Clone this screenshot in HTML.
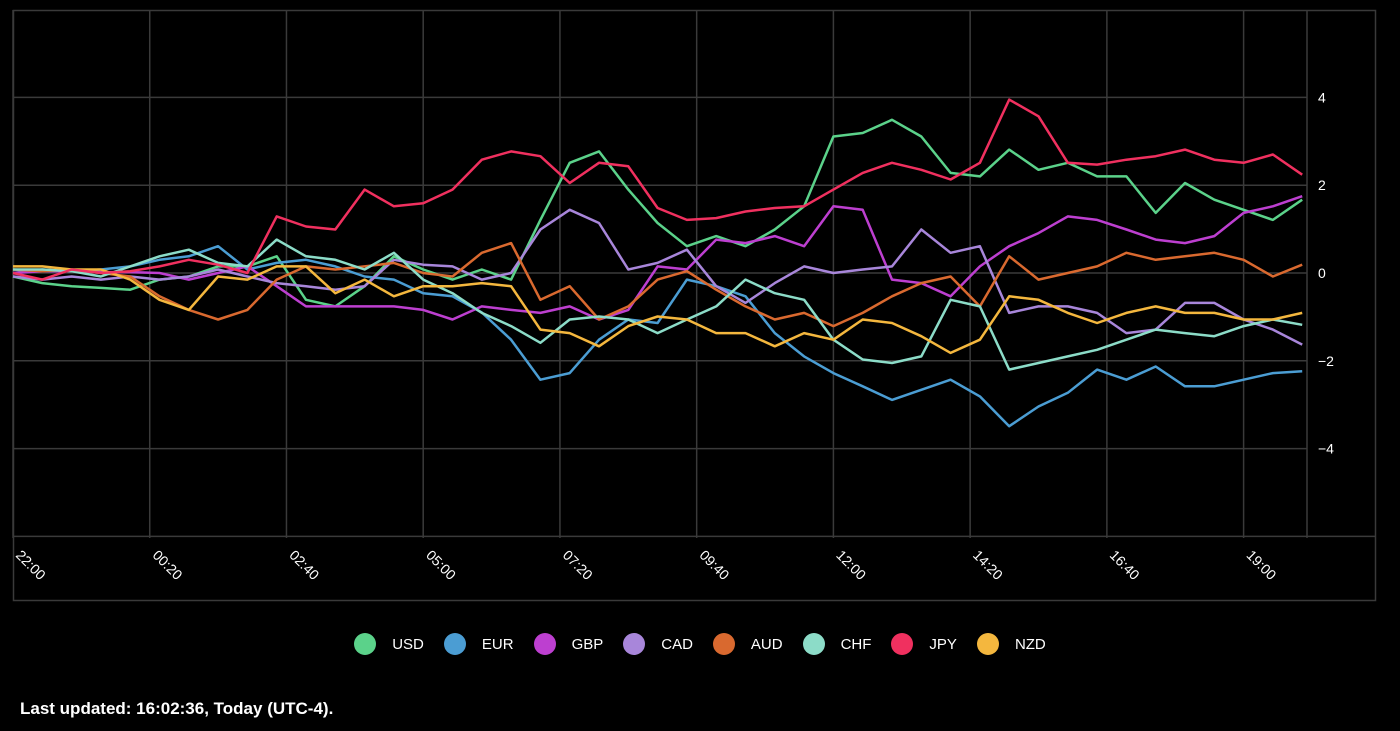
<!DOCTYPE html>
<html><head><meta charset="utf-8"><style>
body{margin:0;background:#000;width:1400px;height:731px;overflow:hidden;font-family:"Liberation Sans",sans-serif;color:#fff}
#legend{position:absolute;top:633px;left:0;width:1400px;display:flex;justify-content:center;gap:0}
.li{display:flex;align-items:center;margin:0 10px;font-size:15px}
.dot{width:22px;height:22px;border-radius:50%;margin-right:16px}
#upd{position:absolute;left:20px;top:699px;font-size:17px;font-weight:bold}
</style></head><body>
<svg id="chart" width="1400" height="620" style="position:absolute;left:0;top:0"></svg>
<div id="legend"></div>
<div id="upd">Last updated: 16:02:36, Today (UTC-4).</div>
<script>
const currencies=["USD","EUR","GBP","CAD","AUD","CHF","JPY","NZD"];
const colors=["#5bd28a","#4b9dd3","#bd3fd0","#a886da","#d9692f","#8cdcc8","#f0305f","#f4b73e"];
const xTickLabels=["22:00","00:20","02:40","05:00","07:20","09:40","12:00","14:20","16:40","19:00"];
const yTickValues=[-4,-2,0,2,4];
const USD=[-0.08,-0.23,-0.3,-0.34,-0.38,-0.15,-0.08,0.15,0.15,0.38,-0.61,-0.76,-0.3,0.38,0.08,-0.15,0.08,-0.15,1.21,2.51,2.77,1.9,1.14,0.61,0.84,0.61,0.99,1.52,3.11,3.19,3.49,3.11,2.28,2.2,2.81,2.35,2.51,2.2,2.2,1.37,2.05,1.67,1.44,1.21,1.67];
const EUR=[0,0.08,0.04,0.08,0.15,0.3,0.38,0.61,0.08,0.23,0.3,0.15,-0.08,-0.15,-0.46,-0.53,-0.9,-1.52,-2.43,-2.28,-1.52,-1.06,-1.14,-0.15,-0.3,-0.53,-1.37,-1.9,-2.28,-2.58,-2.89,-2.66,-2.43,-2.81,-3.49,-3.04,-2.73,-2.2,-2.43,-2.13,-2.58,-2.58,-2.43,-2.28,-2.24];
const GBP=[0,0.04,0.04,0.02,0.02,0,-0.15,0,0.15,-0.3,-0.76,-0.76,-0.76,-0.76,-0.84,-1.06,-0.76,-0.84,-0.91,-0.76,-1.06,-0.84,0.15,0.08,0.76,0.68,0.84,0.61,1.52,1.44,-0.15,-0.23,-0.53,0.15,0.61,0.91,1.29,1.21,0.99,0.76,0.68,0.84,1.37,1.52,1.75];
const CAD=[-0.08,-0.15,-0.08,-0.15,-0.08,-0.15,-0.08,0.08,-0.08,-0.23,-0.3,-0.38,-0.3,0.3,0.19,0.15,-0.15,0,0.99,1.44,1.14,0.08,0.23,0.53,-0.3,-0.68,-0.23,0.15,0,0.08,0.15,0.99,0.46,0.61,-0.91,-0.76,-0.76,-0.91,-1.37,-1.29,-0.68,-0.68,-1.06,-1.29,-1.63];
const AUD=[0.08,0.04,0.08,0,-0.08,-0.53,-0.84,-1.06,-0.84,-0.15,0.15,0.08,0.15,0.23,0,-0.08,0.46,0.68,-0.61,-0.3,-1.06,-0.76,-0.15,0.04,-0.38,-0.76,-1.06,-0.91,-1.21,-0.91,-0.53,-0.23,-0.08,-0.76,0.38,-0.15,0,0.15,0.46,0.3,0.38,0.46,0.3,-0.08,0.19];
const CHF=[0.08,0.08,0.04,-0.08,0.15,0.38,0.53,0.23,0.15,0.76,0.38,0.3,0.08,0.46,-0.15,-0.46,-0.91,-1.21,-1.59,-1.06,-0.99,-1.06,-1.37,-1.06,-0.76,-0.15,-0.46,-0.61,-1.52,-1.97,-2.05,-1.9,-0.61,-0.76,-2.2,-2.05,-1.9,-1.75,-1.52,-1.29,-1.37,-1.44,-1.21,-1.06,-1.18];
const JPY=[0,-0.15,0.08,0,0.04,0.15,0.3,0.19,0,1.29,1.06,0.99,1.9,1.52,1.59,1.9,2.58,2.77,2.66,2.05,2.51,2.43,1.48,1.21,1.25,1.4,1.48,1.52,1.9,2.28,2.51,2.35,2.13,2.51,3.95,3.57,2.51,2.47,2.58,2.66,2.81,2.58,2.51,2.7,2.24];
const NZD=[0.15,0.15,0.08,0.08,-0.15,-0.61,-0.84,-0.08,-0.15,0.15,0.15,-0.46,-0.15,-0.53,-0.3,-0.3,-0.23,-0.3,-1.29,-1.37,-1.67,-1.21,-0.99,-1.06,-1.37,-1.37,-1.67,-1.37,-1.52,-1.06,-1.14,-1.44,-1.82,-1.52,-0.53,-0.61,-0.91,-1.14,-0.91,-0.76,-0.91,-0.91,-1.06,-1.06,-0.91];
const series=[USD,EUR,GBP,CAD,AUD,CHF,JPY,NZD];
const NS="http://www.w3.org/2000/svg";
const svg=document.getElementById('chart');
const X0=13,PX_PER_STEP=29.3,Y0=273,PX_PER_UNIT=43.9;
const xScale=i=>X0+i*PX_PER_STEP;
const yScale=v=>Y0-v*PX_PER_UNIT;
function mk(tag,attrs){const e=document.createElementNS(NS,tag);for(const k in attrs)e.setAttribute(k,attrs[k]);svg.appendChild(e);return e;}
const grid="#3a3a3a";
let f=mk('rect',{x:13.5,y:10.5,width:1362,height:590,fill:'none',stroke:grid,'stroke-width':1.5});


for(let k=0;k<xTickLabels.length;k++){
  const x=xScale(k*4.6667);
  const l=mk('line',{x1:x,y1:10,x2:x,y2:538,stroke:grid,'stroke-width':1.5});
  
  
  const t=mk('text',{x:x+2,y:556,fill:'#fff','font-size':14,transform:`rotate(45 ${x+2} 556)`});
  t.textContent=xTickLabels[k];
  
  
}
let r=mk('line',{x1:1307,y1:10,x2:1307,y2:538,stroke:grid,'stroke-width':1.5});


for(const v of [-6,-4,-2,0,2,4]){
  const y=yScale(v);
  const l=mk('line',{x1:13,y1:y,x2:v===-6?1376:1307,y2:y,stroke:grid,'stroke-width':1.5});
  
  
}
for(const v of yTickValues){
  const t=mk('text',{x:1318,y:yScale(v)+5,fill:'#fff','font-size':14});
  t.textContent=v<0?('−'+Math.abs(v)):String(v);
  
  
}
const order=[0,1,2,3,4,5,7,6];
for(const s of order){
  const d=series[s].map((v,i)=>(i?'L':'M')+xScale(i).toFixed(1)+' '+yScale(v).toFixed(1)).join(' ');
  const p=mk('path',{d:d,fill:'none',stroke:colors[s],'stroke-width':2.5,'stroke-linejoin':'round'});
  
  
}
const lg=document.getElementById('legend');
currencies.forEach((c,i)=>{
  const it=document.createElement('div');it.className='li';
  
  
  it.innerHTML=`<span class="dot" style="background:${colors[i]}"></span><span>${c}</span>`;
  lg.appendChild(it);
});
</script>
</body></html>
